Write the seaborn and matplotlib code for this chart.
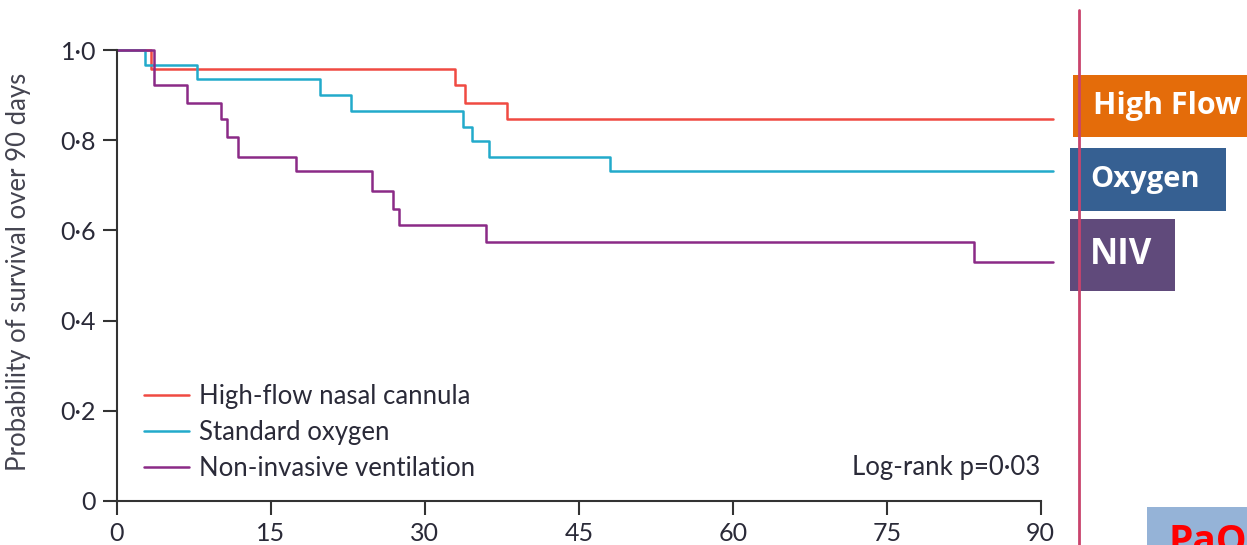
import matplotlib
matplotlib.use("Agg")
import matplotlib.pyplot as plt
from matplotlib.patches import Rectangle
from matplotlib.lines import Line2D
import seaborn as sns
import pandas as pd

# Kaplan-Meier step points (day, survival) per treatment arm
groups = ["High-flow nasal cannula", "Standard oxygen", "Non-invasive ventilation"]
hfnc_days = [0, 3.3, 32.9, 33.9, 38.0, 91.2]
hfnc_surv = [1.0, 0.957, 0.922, 0.883, 0.846, 0.846]
oxy_days = [0, 2.7, 7.8, 19.8, 22.8, 33.7, 34.6, 36.2, 48.0, 91.2]
oxy_surv = [1.0, 0.967, 0.935, 0.900, 0.865, 0.829, 0.799, 0.763, 0.732, 0.732]
niv_days = [0, 3.6, 6.8, 10.1, 10.7, 11.8, 17.4, 24.8, 26.9, 27.5, 36.0, 83.5, 91.2]
niv_surv = [1.0, 0.922, 0.882, 0.846, 0.806, 0.763, 0.732, 0.688, 0.648, 0.612, 0.574, 0.530, 0.530]
colors = ["#f04a42", "#22aacb", "#8b2a87"]

x_ticks = [0, 15, 30, 45, 60, 75, 90]
y_ticks = [0, 0.2, 0.4, 0.6, 0.8, 1.0]
y_tick_labels = ["0", "0·2", "0·4", "0·6", "0·8", "1·0"]
side_labels = ["High Flow", "Oxygen", "NIV"]
side_colors = ["#e46c0a", "#366092", "#604a7b"]

frames = []
for name, d, s in zip(groups, [hfnc_days, oxy_days, niv_days], [hfnc_surv, oxy_surv, niv_surv]):
    frames.append(pd.DataFrame({"day": d, "surv": s, "group": name}))
df = pd.concat(frames, ignore_index=True)

sns.set_theme(style="white")
plt.rcParams["font.family"] = ["Lato", "DejaVu Sans"]
text_c = "#2a2a38"

W, H = 1247, 545
fig = plt.figure(figsize=(W / 100, H / 100), dpi=100)
ax = fig.add_axes([117 / W, (H - 501) / H, (1053 - 117) / W, 451 / H])

sns.lineplot(data=df, x="day", y="surv", hue="group", hue_order=groups,
             palette=colors, estimator=None, sort=False, drawstyle="steps-post",
             linewidth=1.8, legend=False, ax=ax, clip_on=False)

ax.set_xlim(0, 91.2)
ax.set_ylim(0, 1.0)
ax.set_xticks(x_ticks)
ax.set_xticklabels([str(t) for t in x_ticks])
ax.set_yticks(y_ticks)
ax.set_yticklabels(y_tick_labels)
ax.spines["top"].set_visible(False)
ax.spines["right"].set_visible(False)
ax.spines["bottom"].set_bounds(0, 90)
for sp in ["left", "bottom"]:
    ax.spines[sp].set_color("#333333")
    ax.spines[sp].set_linewidth(1.5)
ax.tick_params(axis="both", direction="out", length=10, width=1.5, color="#333333",
               labelsize=18, labelcolor=text_c, pad=5, left=True, bottom=True)
ax.set_xlabel("")
ax.set_ylabel("Probability of survival over 90 days", fontsize=18.5, color="#444450")
ax.yaxis.set_label_coords(-0.092, 0.508)

handles = [Line2D([0], [0], color=c, lw=1.8) for c in colors]
ax.legend(handles, groups, loc="upper left", bbox_to_anchor=(0.0288, 0.259), frameon=False,
          borderpad=0, borderaxespad=0,
          fontsize=18.5, handlelength=1.75, handletextpad=0.4, labelspacing=0.42,
          labelcolor=text_c)

ax.text(90, 0.075, "Log-rank p=0·03", ha="right", va="center", fontsize=18.5, color=text_c)

# right-hand annotation panel
fig.add_artist(Line2D([1079 / W, 1079 / W], [0, (H - 10) / H], color="#c9436c", lw=2,
                      transform=fig.transFigure))
boxes = [(1073, 75, 1250, 137, 22), (1070, 148, 1226, 211, 21), (1070, 219, 1175, 291, 25)]
for (x0, y0, x1, y1, fs), lab, c in zip(boxes, side_labels, side_colors):
    fig.add_artist(Rectangle((x0 / W, (H - y1) / H), (x1 - x0) / W, (y1 - y0) / H,
                             facecolor=c, edgecolor="none", transform=fig.transFigure))
    fig.text((x0 + 20) / W, (H - (y0 + y1) / 2) / H, lab, ha="left", va="center",
             fontsize=fs, fontweight="bold", color="white", family=["Open Sans", "DejaVu Sans"])
fig.add_artist(Rectangle((1147 / W, 0), (W - 1147) / W, (H - 507) / H,
                         facecolor="#95b3d7", edgecolor="none", transform=fig.transFigure))
fig.text(1168 / W, -17 / H, "PaO", ha="left", va="bottom", fontsize=28, fontweight="bold",
         color="#ff0000", family=["Open Sans", "DejaVu Sans"])

fig.savefig("out.png", dpi=100)
